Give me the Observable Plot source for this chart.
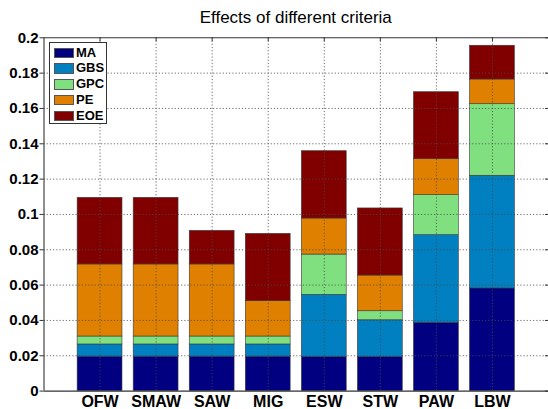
<!DOCTYPE html>
<html>
<head>
<meta charset="utf-8">
<script src="https://cdn.jsdelivr.net/npm/d3@7"></script>
<script src="https://cdn.jsdelivr.net/npm/@observablehq/plot@0.6"></script>
<style>
  html, body { margin: 0; padding: 0; background: #fff; overflow: hidden; }
  #wrap { position: relative; width: 548px; height: 409px; font-family: "Liberation Sans", Arial, sans-serif; }
  #title { position: absolute; left: 43.5px; width: 504.5px; top: 8px; text-align: center; font-size: 17px; color: #000; }
  #legend { position: absolute; left: 49px; top: 42px; width: 58px; height: 82px; border: 1px solid #333; background: #fff; box-sizing: border-box; }
  .item { position: absolute; left: 4px; height: 11px; }
  .sw { position: absolute; left: 0; top: 0; width: 20px; height: 10.5px; box-sizing: border-box; border: 0.7px solid #555; }
  .lab { position: absolute; left: 22px; top: -2px; font-size: 13px; font-weight: bold; line-height: 14px; color: #000; }
</style>
</head>
<body>
<div id="wrap">
  <div id="chart"></div>
  <div id="title">Effects of different criteria</div>
  <div id="legend"></div>
</div>
<script>
const categories = ["OFW", "SMAW", "SAW", "MIG", "ESW", "STW", "PAW", "LBW"];
const series = ["MA", "GBS", "GPC", "PE", "EOE"];
const MA  = [0.0195, 0.0195, 0.0195, 0.0195, 0.0194, 0.0194, 0.0387, 0.0581];
const GBS = [0.0069, 0.0069, 0.0069, 0.0069, 0.0351, 0.0207, 0.0496, 0.0638];
const GPC = [0.0045, 0.0045, 0.0045, 0.0045, 0.0228, 0.0051, 0.0226, 0.0405];
const PE  = [0.0408, 0.0408, 0.0408, 0.0200, 0.0204, 0.0202, 0.0204, 0.0140];
const EOE = [0.0377, 0.0377, 0.0190, 0.0381, 0.0381, 0.0380, 0.0379, 0.0191];
const colors = ["#000080", "#0080C0", "#80E080", "#E08000", "#800000"];
const yTicks = [0, 0.02, 0.04, 0.06, 0.08, 0.1, 0.12, 0.14, 0.16, 0.18, 0.2];
const yTickLabels = ["0", "0.02", "0.04", "0.06", "0.08", "0.1", "0.12", "0.14", "0.16", "0.18", "0.2"];

const valuesBySeries = [MA, GBS, GPC, PE, EOE];
const xPos = categories.map((c, i) => i + 1);
const rows = categories.flatMap((c, i) => {
  let acc = 0;
  return series.map((s, j) => {
    const v = valuesBySeries[j][i];
    const r = {xi: i + 1, cat: c, s, y1: acc, y2: acc + v};
    acc += v;
    return r;
  });
});
const yGrid = yTicks.filter(t => t > 0 && t < 0.2);

const W = 548, H = 409, mL = 43.5, mR = 0, mT = 37.3, mB = 18.4;
const innerW = W - mL - mR, innerH = H - mT - mB;
const font = "Liberation Sans, Arial, sans-serif";

const plot = Plot.plot({
  width: W, height: H,
  marginLeft: mL, marginRight: mR, marginTop: mT, marginBottom: mB,
  style: {fontFamily: font, background: "#fff", overflow: "visible"},
  x: {type: "linear", domain: [0, 9], axis: null},
  y: {domain: [0, 0.2], axis: null},
  color: {domain: series, range: colors},
  marks: [
    Plot.rectY(rows, {x1: d => d.xi - 0.4, x2: d => d.xi + 0.4, y1: "y1", y2: "y2", fill: "s", stroke: "#3a3a3a", strokeWidth: 0.6}),
    Plot.ruleY(yGrid, {stroke: "#4a4a4a", strokeWidth: 0.8, strokeDasharray: "1.2,2"}),
    Plot.ruleX(xPos, {stroke: "#4a4a4a", strokeWidth: 0.8, strokeDasharray: "1.2,2"}),
    Plot.tickX(xPos, {stroke: "#333", insetBottom: innerH - 4}),
    Plot.tickY(yTicks, {stroke: "#333", insetLeft: innerW - 3}),
    Plot.ruleX([0], {stroke: "#333", strokeWidth: 1.1}),
    Plot.ruleY([0, 0.2], {stroke: "#333", strokeWidth: 1.1}),
    Plot.axisY({ticks: yTicks, tickFormat: (d, i) => yTickLabels[i], tickSize: 4, tickPadding: 1.5, stroke: "#333", fontSize: 15, fontWeight: "bold", fill: "#000", label: null}),
    Plot.axisX({ticks: xPos, tickFormat: d => categories[d - 1], tickSize: 0, tickPadding: 5, fontSize: 16, fontWeight: "bold", fill: "#000", label: null})
  ]
});
document.getElementById("chart").appendChild(plot);

const legend = document.getElementById("legend");
series.forEach((s, j) => {
  const it = document.createElement("div");
  it.className = "item";
  it.style.top = (4.5 + j * 15.8) + "px";
  const sw = document.createElement("div");
  sw.className = "sw";
  sw.style.background = colors[j];
  const lab = document.createElement("div");
  lab.className = "lab";
  lab.textContent = s;
  it.appendChild(sw);
  it.appendChild(lab);
  legend.appendChild(it);
});
</script>
</body>
</html>
